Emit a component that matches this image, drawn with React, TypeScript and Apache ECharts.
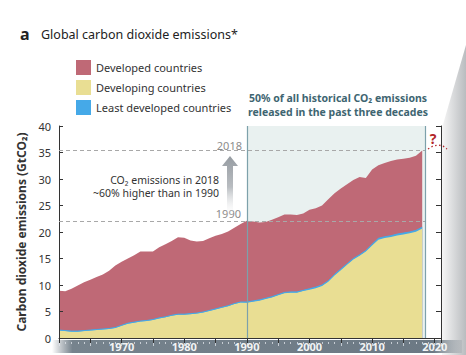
import React, { useEffect, useRef } from 'react';
import * as echarts from 'echarts';

const FONT = '"Noto Sans", "Open Sans", sans-serif';

const startYear = 1960;
const years: number[] = Array.from({ length: 59 }, (_, i) => startYear + i);

const seriesNames = ['Developed countries', 'Developing countries', 'Least developed countries'];

const developed = [
  7.4, 7.4, 8.0, 8.6, 9.1, 9.5, 9.9, 10.3, 10.9, 11.7,
  12.0, 12.2, 12.6, 13.1, 13.0, 12.8, 13.3, 13.7, 14.0, 14.5,
  14.4, 13.8, 13.5, 13.4, 13.6, 13.8, 13.8, 14.0, 14.3, 14.7,
  15.3, 15.0, 14.6, 14.4, 14.5, 14.6, 14.7, 14.6, 14.5, 14.5,
  14.9, 14.9, 15.0, 15.4, 15.3, 15.2, 15.0, 14.8, 14.7, 13.7,
  14.1, 13.8, 13.9, 14.1, 14.1, 14.0, 14.0, 14.1, 14.5,
];

const developing = [
  1.4, 1.3, 1.2, 1.2, 1.3, 1.4, 1.5, 1.6, 1.7, 1.9,
  2.3, 2.7, 2.9, 3.1, 3.2, 3.4, 3.7, 3.9, 4.2, 4.4,
  4.4, 4.5, 4.6, 4.8, 5.1, 5.4, 5.7, 6.0, 6.4, 6.7,
  6.65, 6.85, 7.05, 7.35, 7.65, 8.05, 8.45, 8.55, 8.55, 8.85,
  9.1, 9.4, 9.8, 10.6, 11.8, 12.8, 13.8, 14.8, 15.5, 16.3,
  17.45, 18.55, 18.85, 19.05, 19.35, 19.55, 19.75, 20.05, 20.65,
];

const leastDeveloped = [
  0.1, 0.1, 0.1, 0.1, 0.1, 0.1, 0.1, 0.1, 0.1, 0.1,
  0.1, 0.1, 0.1, 0.1, 0.1, 0.1, 0.1, 0.1, 0.1, 0.1,
  0.1, 0.1, 0.1, 0.1, 0.1, 0.1, 0.1, 0.1, 0.1, 0.1,
  0.15, 0.15, 0.15, 0.15, 0.15, 0.15, 0.15, 0.15, 0.15, 0.15,
  0.2, 0.2, 0.2, 0.2, 0.2, 0.2, 0.2, 0.2, 0.2, 0.2,
  0.25, 0.25, 0.25, 0.25, 0.25, 0.25, 0.25, 0.25, 0.25,
];

const colors = ['#bf6976', '#e9de93', '#45a9e8'];

const highlightStart = 1990;
const highlightEnd = 2018.5;
const refYears = [1990, 2018];

export default function App() {
  const ref = useRef<HTMLDivElement>(null);

  useEffect(() => {
    if (!ref.current) return;
    const chart = echarts.init(ref.current, null, { renderer: 'svg' });

    // cumulative layers (stack built manually so the value x-axis works)
    const lowerLayer = developing.map((v, i) => v + leastDeveloped[i]);
    const totalLayer = lowerLayer.map((v, i) => v + developed[i]);
    const totalAt = (y: number) => totalLayer[y - startYear];
    const t1990 = totalAt(refYears[0]);
    const t2018 = totalAt(refYears[1]);

    const pairs = (arr: number[]) => arr.map((v, i) => [years[i], v]);

    const option: any = {
      animation: false,
      backgroundColor: '#ffffff',
      textStyle: { fontFamily: FONT },
      grid: { left: 59, right: 25, top: 126, bottom: 17 },
      legend: {
        data: seriesNames,
        orient: 'vertical',
        left: 76,
        top: 60,
        padding: 0,
        itemWidth: 15,
        itemHeight: 15,
        itemGap: 5,
        icon: 'rect',
        textStyle: { fontSize: 11, color: '#333', fontFamily: FONT },
        selectedMode: false,
      },
      xAxis: [
        {
          type: 'value', min: 1960, max: 2021, interval: 10, position: 'bottom', z: 4,
          axisLine: { show: false }, axisTick: { show: false }, splitLine: { show: false },
          axisLabel: {
            margin: 3, fontSize: 11, fontWeight: 'bold', color: '#f2f4f5', fontFamily: FONT,
            formatter: (v: number) => (v % 10 === 0 && v > 1960 ? String(v) : ''),
          },
        },
        {
          type: 'value', min: 1960, max: 2021, interval: 5, position: 'top', z: 4,
          axisLine: { show: true, lineStyle: { color: '#333', width: 1 } },
          axisTick: { show: true, inside: true, length: 5, lineStyle: { color: '#333' } },
          axisLabel: { show: false }, splitLine: { show: false },
        },
        {
          type: 'value', min: 1960, max: 2021, interval: 5, position: 'bottom', offset: 4, z: 3,
          axisLine: { show: false },
          axisTick: { show: true, length: 4, lineStyle: { color: 'rgba(225,230,235,0.75)' } },
          minorTick: { show: true, splitNumber: 5, length: 2, lineStyle: { color: 'rgba(225,230,235,0.75)' } },
          axisLabel: { show: false }, splitLine: { show: false },
        },
      ],
      yAxis: [
        {
          type: 'value', min: 0, max: 40, interval: 5, position: 'left', z: 4,
          name: 'Carbon dioxide emissions (GtCO₂)',
          nameLocation: 'middle', nameGap: 29, nameRotate: 90,
          nameTextStyle: { fontSize: 12, fontWeight: 'bold', color: '#333', fontFamily: FONT },
          axisLine: { show: true, lineStyle: { color: '#333', width: 1 } },
          axisTick: { show: true, inside: true, length: 4, lineStyle: { color: '#333' } },
          axisLabel: { fontSize: 11, color: '#333', margin: 8, fontFamily: FONT },
          splitLine: { show: false },
        },
        {
          type: 'value', min: 0, max: 40, interval: 5, position: 'right', z: 4,
          axisLine: { show: true, lineStyle: { color: '#333', width: 1 } },
          axisTick: { show: true, inside: true, length: 5, lineStyle: { color: '#333' } },
          axisLabel: { show: false }, splitLine: { show: false },
        },
      ],
      series: [
        {
          name: seriesNames[0], type: 'line', xAxisIndex: 0, yAxisIndex: 0, z: 2,
          data: pairs(totalLayer), showSymbol: false, symbol: 'none',
          color: colors[0], lineStyle: { width: 0 }, areaStyle: { color: colors[0], opacity: 1 },
          markArea: {
            silent: true,
            itemStyle: { color: '#e9f1f0' },
            data: [[{ xAxis: highlightStart }, { xAxis: highlightEnd }]],
          },
        },
        {
          name: seriesNames[2], type: 'line', xAxisIndex: 0, yAxisIndex: 0, z: 2,
          data: pairs(lowerLayer), showSymbol: false, symbol: 'none',
          color: colors[2], lineStyle: { width: 1, color: colors[2] }, areaStyle: { color: colors[2], opacity: 1 },
        },
        {
          name: seriesNames[1], type: 'line', xAxisIndex: 0, yAxisIndex: 0, z: 2,
          data: pairs(developing), showSymbol: false, symbol: 'none',
          color: colors[1], lineStyle: { width: 0 }, areaStyle: { color: colors[1], opacity: 1 },
          markLine: {
            silent: true, symbol: 'none', label: { show: false },
            data: [
              [{ coord: [1960, t2018] }, { coord: [highlightEnd, t2018] }],
              [{ coord: [1960, t1990] }, { coord: [highlightEnd, t1990] }],
              [{ coord: [highlightStart, 0], lineStyle: { color: '#7da1ab', type: 'solid', width: 1.2 } },
               { coord: [highlightStart, 40] }],
              [{ coord: [highlightEnd, 0], lineStyle: { color: '#7da1ab', type: 'solid', width: 1.2 } },
               { coord: [highlightEnd, 40] }],
            ],
            lineStyle: { color: '#a8a8a8', type: [4, 3], width: 1 },
          },
        },
      ],
      graphic: [
        // right page-curl wedge
        {
          type: 'polygon', z: 1, silent: true,
          shape: { points: [[442, 128], [466, 45], [466, 355], [442, 355]] },
          style: {
            fill: { type: 'linear', x: 0, y: 0, x2: 1, y2: 0, colorStops: [
              { offset: 0, color: '#f6f6f6' }, { offset: 1, color: '#b9bcbf' },
            ] },
          },
        },
        // bottom axis band
        {
          type: 'rect', z: 1, silent: true,
          shape: { x: 52, y: 340, width: 410, height: 13 },
          style: {
            fill: { type: 'linear', x: 0, y: 0, x2: 1, y2: 0, colorStops: [
              { offset: 0, color: 'rgba(110,122,132,0)' },
              { offset: 0.05, color: '#76838d' },
              { offset: 0.93, color: '#6c7984' },
              { offset: 1, color: 'rgba(110,122,132,0.15)' },
            ] },
          },
        },
        // title
        { type: 'text', z: 5, x: 20, y: 34, style: { text: 'a', font: `bold 16px ${FONT}`, fill: '#222', textVerticalAlign: 'middle' } },
        { type: 'text', z: 5, x: 41, y: 34, style: { text: 'Global carbon dioxide emissions*', font: `12.5px ${FONT}`, fill: '#222', textVerticalAlign: 'middle' } },
        // box caption
        { type: 'text', z: 5, x: 338, y: 98, style: { text: '50% of all historical CO₂ emissions', font: `bold 10.5px ${FONT}`, fill: '#3e6571', textAlign: 'center', textVerticalAlign: 'middle' } },
        { type: 'text', z: 5, x: 338, y: 112, style: { text: 'released in the past three decades', font: `bold 10.5px ${FONT}`, fill: '#3e6571', textAlign: 'center', textVerticalAlign: 'middle' } },
        // reference labels
        { type: 'text', z: 5, x: 242, y: 145, style: { text: String(refYears[1]), font: `11px ${FONT}`, fill: '#8c8c8c', textAlign: 'right', textVerticalAlign: 'middle' } },
        { type: 'text', z: 5, x: 241, y: 213, style: { text: String(refYears[0]), font: `11px ${FONT}`, fill: '#8c8c8c', textAlign: 'right', textVerticalAlign: 'middle' } },
        // annotation
        { type: 'text', z: 5, x: 219, y: 180, style: { text: 'CO₂ emissions in 2018', font: `10.5px ${FONT}`, fill: '#333', textAlign: 'right', textVerticalAlign: 'middle' } },
        { type: 'text', z: 5, x: 219, y: 193, style: { text: '~60% higher than in 1990', font: `10.5px ${FONT}`, fill: '#333', textAlign: 'right', textVerticalAlign: 'middle' } },
        // arrow
        {
          type: 'polygon', z: 5, silent: true,
          shape: { points: [[230, 156], [238, 166], [233, 166], [233, 218], [227, 218], [227, 166], [222, 166]] },
          style: {
            fill: { type: 'linear', x: 0, y: 0, x2: 0, y2: 1, colorStops: [
              { offset: 0, color: '#969ca2' }, { offset: 0.5, color: '#b9bdc1' }, { offset: 1, color: 'rgba(255,255,255,0)' },
            ] },
          },
        },
        // question mark
        { type: 'text', z: 6, x: 433, y: 138, style: { text: '?', font: `bold 14px ${FONT}`, fill: '#b3262a', textAlign: 'center', textVerticalAlign: 'middle' } },
        {
          type: 'polyline', z: 6, silent: true,
          shape: { points: [[428, 149], [433, 146], [438, 145], [443, 146], [447, 149]] },
          style: { stroke: '#b3262a', lineWidth: 1.3, lineDash: [1.5, 2.5], fill: 'none' },
        },
      ],
    };
    chart.setOption(option);
    return () => chart.dispose();
  }, []);

  return (
    <div
      ref={ref}
      style={{ position: 'fixed', left: 0, top: 0, width: 466, height: 355 }}
    />
  );
}
